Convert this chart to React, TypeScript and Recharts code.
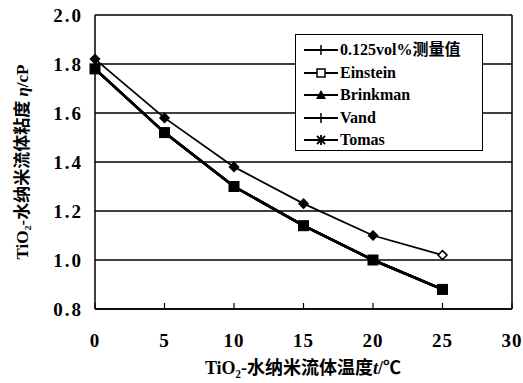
import React from 'react';
import { LineChart, Line, XAxis, YAxis, CartesianGrid, ReferenceLine, Legend, Label } from 'recharts';

const temps = [0, 5, 10, 15, 20, 25];
const measured = [1.82, 1.58, 1.38, 1.23, 1.1, 1.02];
const einstein = [1.78, 1.52, 1.3, 1.14, 1.0, 0.88];
const brinkman = [1.78, 1.52, 1.3, 1.14, 1.0, 0.88];
const vand = [1.78, 1.52, 1.3, 1.14, 1.0, 0.88];
const tomas = [1.78, 1.52, 1.3, 1.14, 1.0, 0.88];
const xTicks = [0, 5, 10, 15, 20, 25, 30];
const yTicks = [0.8, 1.0, 1.2, 1.4, 1.6, 1.8, 2.0];
const seriesNames = ['0.125vol%测量值', 'Einstein', 'Brinkman', 'Vand', 'Tomas'];

const data = temps.map((t, i) => ({
  t,
  measured: measured[i],
  einstein: einstein[i],
  brinkman: brinkman[i],
  vand: vand[i],
  tomas: tomas[i],
}));

const FONT = '"Liberation Serif", "Noto Sans CJK SC", serif';

const Diamond = (p: any) => {
  const { cx, cy, index } = p;
  if (cx == null || cy == null) return <g key={index} />;
  const r = 4.5;
  return (
    <path key={index} d={`M${cx},${cy - r}L${cx + r},${cy}L${cx},${cy + r}L${cx - r},${cy}Z`}
      fill={index === 5 ? '#fff' : '#000'} stroke="#000" strokeWidth={1.5} />
  );
};

const Square = (p: any) => {
  const { cx, cy, index } = p;
  if (cx == null || cy == null) return <g key={index} />;
  const r = 5;
  return <rect key={index} x={cx - r} y={cy - r} width={2 * r} height={2 * r} fill="#000" stroke="#000" />;
};

const XTick = (p: any) => {
  const { x, y, payload } = p;
  return (
    <g>
      <line x1={x} y1={y} x2={x} y2={y - 6} stroke="#000" strokeWidth={1.2} />
      <text x={x} y={y + 38} textAnchor="middle" fontFamily={FONT} fontWeight="bold" fontSize={19} letterSpacing={1} fill="#000">
        {payload.value}
      </text>
    </g>
  );
};

const icon = (kind: number) => {
  const c = 19, cy = 7;
  let m: React.ReactNode = null;
  if (kind === 0 || kind === 3) m = <line x1={c} y1={cy - 5} x2={c} y2={cy + 5} stroke="#000" strokeWidth={1.5} />;
  if (kind === 1) m = <rect x={c - 4} y={cy - 4} width={8} height={8} fill="#fff" stroke="#000" strokeWidth={1.5} />;
  if (kind === 2) m = <path d={`M${c},${cy - 5}L${c + 5},${cy + 4}L${c - 5},${cy + 4}Z`} fill="#000" />;
  if (kind === 4)
    m = (
      <g stroke="#000" strokeWidth={1.8}>
        <line x1={c - 4} y1={cy - 4} x2={c + 4} y2={cy + 4} />
        <line x1={c - 4} y1={cy + 4} x2={c + 4} y2={cy - 4} />
        <line x1={c} y1={cy - 5} x2={c} y2={cy + 5} />
      </g>
    );
  return (
    <svg width={38} height={14} style={{ display: 'block' }}>
      <line x1={2} y1={cy} x2={36} y2={cy} stroke="#000" strokeWidth={1.8} />
      {m}
    </svg>
  );
};

const renderLegend = () => (
  <div style={{ border: '1.5px solid #000', background: '#fff', padding: '4px 6px 3px 6px', boxSizing: 'border-box', width: 188, height: 117 }}>
    {seriesNames.map((n, i) => (
      <div key={n} style={{ display: 'flex', alignItems: 'center', height: 22.5 }}>
        {icon(i)}
        <span style={{ fontFamily: FONT, fontWeight: 'bold', fontSize: 16, color: '#000', whiteSpace: 'nowrap', lineHeight: '16px' }}>{n}</span>
      </div>
    ))}
  </div>
);

export default function App() {
  return (
    <div style={{ position: 'absolute', left: 0, top: 0, background: '#fff' }}>
      <LineChart width={523} height={383} data={data} margin={{ top: 15, right: 11, bottom: 0, left: 0 }}>
        <CartesianGrid vertical={false} stroke="#000" strokeWidth={1.5} />
        <XAxis dataKey="t" type="number" domain={[0, 30]} ticks={xTicks} height={74} axisLine={{ stroke: '#000', strokeWidth: 1.5 }}
          tickLine={false} tickSize={0} tickMargin={0} tick={<XTick />} interval={0}>
          <Label content={() => (
            <text x={303} y={374} textAnchor="middle" fontFamily={FONT} fontWeight="bold" fontSize={18} fill="#000">
              TiO₂-水纳米流体温度<tspan fontStyle="italic">t</tspan>/℃
            </text>
          )} />
        </XAxis>
        <YAxis type="number" domain={[0.8, 2.0]} ticks={yTicks} width={95} axisLine={{ stroke: '#000', strokeWidth: 1.5 }}
          tickLine={false} tickSize={0} tickMargin={12} interval={0}
          tickFormatter={(v: number) => v.toFixed(1)}
          tick={{ fontFamily: FONT, fontWeight: 'bold', fontSize: 19, letterSpacing: 2, fill: '#000' }}>
          <Label content={() => (
            <text x={0} y={0} transform="translate(28,162) rotate(-90)" textAnchor="middle" fontFamily={FONT} fontWeight="bold" fontSize={17} fill="#000">
              TiO₂-水纳米流体粘度 <tspan fontStyle="italic">η</tspan>/cP
            </text>
          )} />
        </YAxis>
        <ReferenceLine x={30} stroke="#000" strokeWidth={1.5} />
        <Legend layout="horizontal" verticalAlign="middle" align="center" content={renderLegend}
          wrapperStyle={{ left: 295, top: 34, width: 188, height: 117 }} />
        <Line dataKey="einstein" name="Einstein" stroke="#000" strokeWidth={2.5} dot={<Square />} isAnimationActive={false} />
        <Line dataKey="brinkman" name="Brinkman" stroke="#000" strokeWidth={2.5} dot={false} isAnimationActive={false} />
        <Line dataKey="vand" name="Vand" stroke="#000" strokeWidth={2.5} dot={false} isAnimationActive={false} />
        <Line dataKey="tomas" name="Tomas" stroke="#000" strokeWidth={2.5} dot={false} isAnimationActive={false} />
        <Line dataKey="measured" name="0.125vol%测量值" stroke="#000" strokeWidth={1.8} dot={<Diamond />} isAnimationActive={false} />
      </LineChart>
    </div>
  );
}
